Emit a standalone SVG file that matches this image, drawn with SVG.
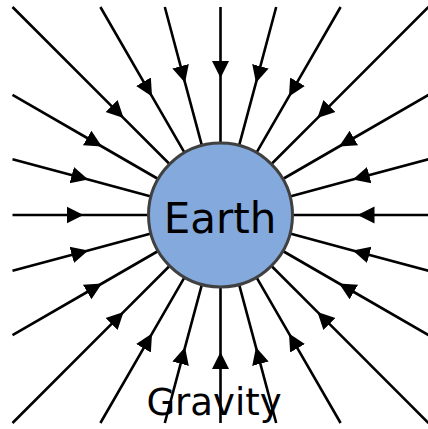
<svg xmlns="http://www.w3.org/2000/svg" width="428" height="429" viewBox="0 0 428 429">
  <style>
    .fl { fill: none; stroke: #000; stroke-width: 2.6; marker-mid: url(#arr); }
    .lbl { font-family: "DejaVu Sans", Verdana, sans-serif; fill: #000; text-anchor: middle; }
  </style>
  <defs>
    <marker id="arr" viewBox="0 -10 18 20" markerWidth="18" markerHeight="20" refX="17" refY="0" orient="auto" markerUnits="userSpaceOnUse">
      <path d="M0,-8.5 L17,0 L0,8.5 Z" fill="#000"/>
    </marker>
  </defs>
  <rect width="428" height="429" fill="#fff"/>
  <g id="gravity-label">
    <text class="lbl" x="214" y="415" font-size="37">Gravity</text>
  </g>
  <g id="connectors">
    <polyline class="fl" points="428.5,215 357.5,215 290.5,215"/>
    <polyline class="fl" points="428.5,270.7 352.8,250.5 288.1,233.1"/>
    <polyline class="fl" points="428.5,335.1 339.1,283.5 281.1,250"/>
    <polyline class="fl" points="428.5,423 317.4,311.9 270,264.5"/>
    <polyline class="fl" points="340.6,423 289,333.6 255.5,275.6"/>
    <polyline class="fl" points="276.2,423 256,347.3 238.6,282.6"/>
    <polyline class="fl" points="220.5,423 220.5,352 220.5,285"/>
    <polyline class="fl" points="164.8,423 185,347.3 202.4,282.6"/>
    <polyline class="fl" points="100.4,423 152,333.6 185.5,275.6"/>
    <polyline class="fl" points="12.5,423 123.6,311.9 171,264.5"/>
    <polyline class="fl" points="12.5,335.1 101.9,283.5 159.9,250"/>
    <polyline class="fl" points="12.5,270.7 88.2,250.5 152.9,233.1"/>
    <polyline class="fl" points="12.5,215 83.5,215 150.5,215"/>
    <polyline class="fl" points="12.5,159.3 88.2,179.5 152.9,196.9"/>
    <polyline class="fl" points="12.5,94.9 101.9,146.5 159.9,180"/>
    <polyline class="fl" points="12.5,7 123.6,118.1 171,165.5"/>
    <polyline class="fl" points="100.4,7 152,96.4 185.5,154.4"/>
    <polyline class="fl" points="164.8,7 185,82.7 202.4,147.4"/>
    <polyline class="fl" points="220.5,7 220.5,78 220.5,145"/>
    <polyline class="fl" points="276.2,7 256,82.7 238.6,147.4"/>
    <polyline class="fl" points="340.6,7 289,96.4 255.5,154.4"/>
    <polyline class="fl" points="428.5,7 317.4,118.1 270,165.5"/>
    <polyline class="fl" points="428.5,94.9 339.1,146.5 281.1,180"/>
    <polyline class="fl" points="428.5,159.3 352.8,179.5 288.1,196.9"/>
  </g>
  <g id="earth">
    <circle cx="220.5" cy="215" r="72" fill="#84a9dc" stroke="#404040" stroke-width="3"/>
    <text class="lbl" x="220" y="233" font-size="42">Earth</text>
  </g>
</svg>
